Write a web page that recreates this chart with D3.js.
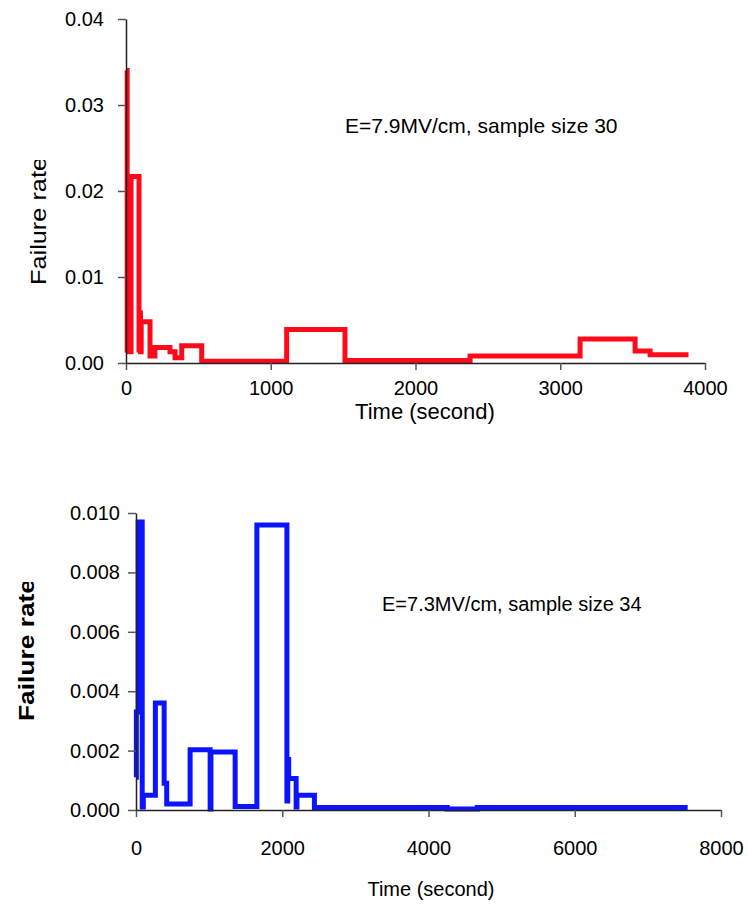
<!DOCTYPE html>
<html>
<head>
<meta charset="utf-8">
<script src="https://cdn.jsdelivr.net/npm/d3@7"></script>
<style>
  html, body { margin: 0; padding: 0; background: #fff; }
  svg text { font-family: Arial, "Liberation Sans", sans-serif; fill: #000; }
</style>
</head>
<body>
<script>
// failure rate step data, E=7.9MV/cm (red)
var redTime = [0, 8, 15, 22, 35, 90, 95, 100, 105, 166, 200, 304, 339, 385, 523, 1110, 1513, 2377, 3137, 3517, 3621, 3886];
var redRate = [0.034, 0.0015, 0.0124, 0.0013, 0.0217, 0.0015, 0.0058, 0.0013, 0.0048, 0.0008, 0.0018, 0.0013, 0.0006, 0.002, 0.0002, 0.0039, 0.0003, 0.0008, 0.0028, 0.0014, 0.00095, 0.00095];

// E=7.3MV/cm (blue)
var blueTime = [0, 5, 30, 85, 100, 265, 385, 420, 740, 1014, 1025, 1356, 1653, 2064, 2075, 2088, 2190, 2201, 2440, 4256, 4667, 7544];
var blueRate = [0.0011, 0.0033, 0.0097, 0.0001, 0.0005, 0.0036, 0.0009, 0.0002, 0.00203, 0.00003, 0.00195, 0.00012, 0.0096, 0.0003, 0.0017, 0.00106, 0.0001, 0.0005, 0.00008, 0.00003, 0.00008, 0.00008];

var topXTicks = [0, 1000, 2000, 3000, 4000];
var topYTicks = [0, 0.01, 0.02, 0.03, 0.04];
var botXTicks = [0, 2000, 4000, 6000, 8000];
var botYTicks = [0, 0.002, 0.004, 0.006, 0.008, 0.010];

var svg = d3.select('body').append('svg')
    .attr('width', 748)
    .attr('height', 911);

svg.append('rect').attr('width', 748).attr('height', 911).attr('fill', '#fff');
var defs = svg.append('defs');

function drawPanel(opt) {
    var x = d3.scaleLinear().domain(opt.xDomain).range([opt.left, opt.right]);
    var y = d3.scaleLinear().domain(opt.yDomain).range([opt.bottom, opt.top]);
    var g = svg.append('g');

    // series first, axes on top
    var pts = opt.time.map(function(t, i) { return [t, opt.rate[i]]; });
    var line = d3.line()
        .x(function(d) { return x(d[0]); })
        .y(function(d) { return y(d[1]); })
        .curve(d3.curveStepAfter);
    g.append('path')
        .datum(pts)
        .attr('d', line)
        .attr('fill', 'none')
        .attr('stroke', opt.color)
        .attr('stroke-width', 5)
        .attr('stroke-linejoin', 'miter');

    var xAxis = g.append('g')
        .attr('transform', 'translate(0,' + opt.bottom + ')')
        .call(d3.axisBottom(x).tickValues(opt.xTicks).tickSize(7).tickPadding(opt.xPad).tickSizeOuter(0)
            .tickFormat(d3.format('d')));
    var yAxis = g.append('g')
        .attr('transform', 'translate(' + opt.left + ',0)')
        .call(d3.axisLeft(y).tickValues(opt.yTicks).tickSize(8).tickPadding(opt.yPad).tickSizeOuter(0)
            .tickFormat(d3.format(opt.yFmt)));
    [xAxis, yAxis].forEach(function(a) {
        a.select('.domain').attr('stroke', '#222').attr('stroke-width', 1.5);
        a.selectAll('.tick line').attr('stroke', '#555').attr('stroke-width', 1.5);
        a.selectAll('.tick text').style('font-size', '20px').attr('fill', '#000');
    });

    g.append('text')
        .attr('x', opt.xTitle[0]).attr('y', opt.xTitle[1])
        .attr('text-anchor', 'middle')
        .style('font-size', opt.xTitleFont + 'px')
        .text('Time (second)');

    // y title, the end of "rate" is cut off like in the original
    var clipId = 'clip-' + opt.id;
    defs.append('clipPath').attr('id', clipId)
        .append('rect')
        .attr('x', 0).attr('y', opt.yClip)
        .attr('width', 80).attr('height', 400);
    g.append('g').attr('clip-path', 'url(#' + clipId + ')')
        .append('text')
        .attr('transform', 'translate(' + opt.yTitle[0] + ',' + opt.yTitle[1] + ') rotate(-90)')
        .attr('text-anchor', 'middle')
        .attr('textLength', opt.yLen)
        .attr('lengthAdjust', 'spacingAndGlyphs')
        .style('font-size', opt.yFont + 'px')
        .style('font-weight', opt.boldY ? 'bold' : 'normal')
        .text('Failure rate');

    g.append('text')
        .attr('x', opt.note[0]).attr('y', opt.note[1])
        .style('font-size', opt.noteFont + 'px')
        .text(opt.noteText);
}

drawPanel({
    id: 'top',
    time: redTime, rate: redRate, color: '#ff0a1a',
    xDomain: [0, 4000], yDomain: [0, 0.04],
    left: 126, right: 705, top: 19, bottom: 363,
    xTicks: topXTicks, yTicks: topYTicks, yFmt: '.2f',
    xPad: 11, yPad: 14,
    xTitle: [425, 419], xTitleFont: 22,
    yTitle: [46, 221], yLen: 128, yFont: 22, yClip: 160, boldY: false,
    note: [345, 133], noteFont: 21, noteText: 'E=7.9MV/cm, sample size 30'
});

drawPanel({
    id: 'bot',
    time: blueTime, rate: blueRate, color: '#0c14ff',
    xDomain: [0, 8000], yDomain: [0, 0.010],
    left: 136, right: 721, top: 513, bottom: 810,
    xTicks: botXTicks, yTicks: botYTicks, yFmt: '.3f',
    xPad: 24, yPad: 8,
    xTitle: [431, 896], xTitleFont: 20,
    yTitle: [34, 650], yLen: 142, yFont: 22, yClip: 582, boldY: true,
    note: [382, 611], noteFont: 20, noteText: 'E=7.3MV/cm, sample size 34'
});
</script>
</body>
</html>
